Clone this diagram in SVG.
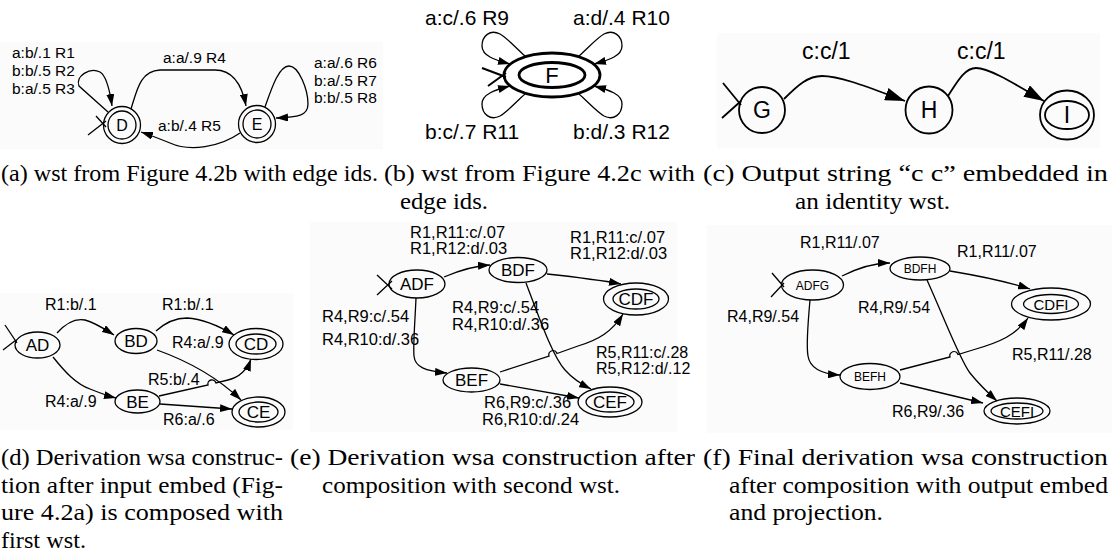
<svg xmlns="http://www.w3.org/2000/svg" width="1112" height="551" viewBox="0 0 1112 551">
<style>
.t{font-family:"Liberation Sans",Arial,Helvetica,sans-serif;fill:#000}
.cap{font-family:"Liberation Serif","Times New Roman",serif;font-size:23px;fill:#000}
.e{fill:none;stroke:#000;stroke-width:1.3}
.n{fill:none;stroke:#000;stroke-width:1.3}
.bg{fill:#fbfbfb}
.a{font-size:15.5px}
.b{font-size:21px}
.c{font-size:23px}
.d{font-size:16px}
.ee{font-size:16.5px}
.f{font-size:16px}
</style>
<defs>
<marker id="ah" viewBox="0 0 12 8" refX="12" refY="4" markerWidth="12" markerHeight="8" orient="auto" markerUnits="userSpaceOnUse"><path d="M0,0 L12,4 L0,8 z"/></marker>
<marker id="ahL" viewBox="0 0 20 13" refX="20" refY="6.5" markerWidth="20" markerHeight="13" orient="auto" markerUnits="userSpaceOnUse"><path d="M0,0 L20,6.5 L0,13 z"/></marker>
</defs>

<g id="backgrounds">
<rect class="bg" x="0" y="42" width="383" height="107"/>
<rect class="bg" x="717" y="33" width="383" height="115"/>
<rect class="bg" x="0" y="293" width="293" height="137"/>
<rect class="bg" x="310" y="222" width="367" height="210"/>
<rect class="bg" x="707" y="225" width="405" height="208"/>
</g>

<!-- Panel (a) -->
<g id="a-D"><circle class="n" cx="122" cy="125" r="18.5"/><circle class="n" cx="122" cy="125" r="14"/><text class="t" x="122" y="131" font-size="16" text-anchor="middle">D</text></g>
<g id="a-E"><circle class="n" cx="257" cy="124" r="18.5"/><circle class="n" cx="257" cy="124" r="14"/><text class="t" x="257" y="130" font-size="16" text-anchor="middle">E</text></g>
<g id="a-edges">
<path class="e" d="M96,116 L106,127 M88,135 L106,121"/>
<path class="e" d="M108,112 L79,86 C75,76 90,67 100,72 C107,76 110,92 112,106" marker-end="url(#ah)"/>
<path class="e" d="M131,109 C137,90 140,71 160,70 L215,70 C233,70 242,85 246,106" marker-end="url(#ah)"/>
<path class="e" d="M240,133 C220,147 190,152 170,143 C160,139 150,135 141,132" marker-end="url(#ah)"/>
<path class="e" d="M265,107 C272,87 279,66 289,66 C299,66 308,90 308,104 C308,116 298,117 276,118" marker-end="url(#ah)"/>
</g>
<g id="a-labels" class="t a">
<text x="12" y="58">a:b/.1 R1</text>
<text x="12" y="76">b:b/.5 R2</text>
<text x="12" y="94">b:a/.5 R3</text>
<text x="163" y="63">a:a/.9 R4</text>
<text x="158" y="131">a:b/.4 R5</text>
<text x="314" y="68">a:a/.6 R6</text>
<text x="314" y="85.5">b:a/.5 R7</text>
<text x="314" y="103">b:b/.5 R8</text>
</g>

<!-- Panel (b) -->
<g id="b-F"><ellipse cx="552" cy="75" rx="48" ry="22" fill="none" stroke="#000" stroke-width="2.8"/><ellipse cx="552" cy="75" rx="33" ry="12.5" fill="none" stroke="#000" stroke-width="2.8"/><text class="t" x="552" y="83" font-size="22" text-anchor="middle">F</text></g>
<g id="b-edges">
<path d="M482,68 L506,77 M488,86 L506,73" fill="none" stroke="#000" stroke-width="2"/>
<path class="e" d="M525,56 C515,47 507,38 500,34 C490,29 482,36 482,46 C482,56 495,60 510,64" marker-end="url(#ah)"/>
<path class="e" d="M579,56 C589,47 597,38 604,34 C614,29 622,36 622,46 C622,56 609,60 594,64" marker-end="url(#ah)"/>
<path class="e" d="M525,94 C515,103 507,112 500,116 C490,121 482,114 482,104 C482,94 495,90 510,86" marker-end="url(#ah)"/>
<path class="e" d="M579,94 C589,103 597,112 604,116 C614,121 622,114 622,104 C622,94 609,90 594,86" marker-end="url(#ah)"/>
</g>
<g id="b-labels" class="t b">
<text x="425" y="25">a:c/.6 R9</text>
<text x="573" y="25">a:d/.4 R10</text>
<text x="425" y="139">b:c/.7 R11</text>
<text x="573" y="139">b:d/.3 R12</text>
</g>

<!-- Panel (c) -->
<g id="c-G"><circle cx="762" cy="110" r="23" fill="none" stroke="#000" stroke-width="1.8"/><text class="t c" x="762" y="118" text-anchor="middle">G</text></g>
<g id="c-H"><circle cx="929" cy="110" r="23.5" fill="none" stroke="#000" stroke-width="1.8"/><text class="t c" x="929" y="118" text-anchor="middle">H</text></g>
<g id="c-I"><ellipse cx="1067" cy="115" rx="27" ry="24.5" fill="none" stroke="#000" stroke-width="1.8"/><ellipse cx="1067" cy="115" rx="22" ry="14" fill="none" stroke="#000" stroke-width="1.8"/><text class="t c" x="1067" y="123" text-anchor="middle">I</text></g>
<g id="c-edges">
<path d="M723,83 L741,105 M722,118 L741,101" fill="none" stroke="#000" stroke-width="1.8"/>
<path d="M784,99 C798,85 808,76 822,76 C842,76 875,90 905,101" fill="none" stroke="#000" stroke-width="1.8" marker-end="url(#ahL)"/>
<path d="M948,96 C956,84 964,68 976,68 C990,68 1018,86 1044,101" fill="none" stroke="#000" stroke-width="1.8" marker-end="url(#ahL)"/>
</g>
<g id="c-labels" class="t c">
<text x="802" y="59">c:c/1</text>
<text x="957" y="59">c:c/1</text>
</g>

<!-- Panel (d) -->
<g id="d-AD"><ellipse class="n" cx="37.5" cy="345" rx="22.5" ry="13"/><text class="t" x="37.5" y="351" font-size="17" text-anchor="middle">AD</text></g>
<g id="d-BD"><ellipse class="n" cx="136" cy="341" rx="21" ry="12.5"/><text class="t" x="136" y="347" font-size="17" text-anchor="middle">BD</text></g>
<g id="d-CD"><ellipse class="n" cx="256" cy="344" rx="27" ry="15.5"/><ellipse class="n" cx="256" cy="344" rx="20" ry="10"/><text class="t" x="256" y="350" font-size="17" text-anchor="middle">CD</text></g>
<g id="d-BE"><ellipse class="n" cx="137.5" cy="401.5" rx="22.5" ry="11.5"/><text class="t" x="137.5" y="407.5" font-size="17" text-anchor="middle">BE</text></g>
<g id="d-CE"><ellipse class="n" cx="258.5" cy="412" rx="26.5" ry="15"/><ellipse class="n" cx="258.5" cy="412" rx="19.5" ry="10"/><text class="t" x="258.5" y="418" font-size="17" text-anchor="middle">CE</text></g>
<g id="d-edges">
<path class="e" d="M5,325 L17,343 M3,350 L16,340"/>
<path class="e" d="M57,333 C66,323 75,318 85,320 C96,323 106,330 114,335" marker-end="url(#ah)"/>
<path class="e" d="M156,331 C166,322 175,318 187,318 C203,319 219,326 234,335" marker-end="url(#ah)"/>
<path class="e" d="M53,357 C65,372 76,384 90,389 C100,393 108,396 116,398" marker-end="url(#ah)"/>
<path class="e" d="M157,350 C185,360 216,376 241,400" marker-end="url(#ah)"/>
<path class="e" d="M159,396 L208,385 a4,4 0 0 1 8,-2 L228,380 C240,377 247,370 251,359" marker-end="url(#ah)"/>
<path class="e" d="M160,404 L232,409" marker-end="url(#ah)"/>
</g>
<g id="d-labels" class="t d">
<text x="45" y="310">R1:b/.1</text>
<text x="162" y="310">R1:b/.1</text>
<text x="172" y="348">R4:a/.9</text>
<text x="148" y="385">R5:b/.4</text>
<text x="45" y="407">R4:a/.9</text>
<text x="163" y="425">R6:a/.6</text>
</g>

<!-- Panel (e) -->
<g id="e-ADF"><ellipse class="n" cx="417" cy="284" rx="28" ry="14"/><text class="t" x="417" y="290" font-size="17" text-anchor="middle">ADF</text></g>
<g id="e-BDF"><ellipse class="n" cx="518" cy="270" rx="29" ry="12.5"/><text class="t" x="518" y="276" font-size="17" text-anchor="middle">BDF</text></g>
<g id="e-CDF"><ellipse class="n" cx="636" cy="299" rx="32.5" ry="16"/><ellipse class="n" cx="636" cy="299" rx="23" ry="10"/><text class="t" x="636" y="305" font-size="17" text-anchor="middle">CDF</text></g>
<g id="e-BEF"><ellipse class="n" cx="471.5" cy="380" rx="28.5" ry="12"/><text class="t" x="471.5" y="386" font-size="17" text-anchor="middle">BEF</text></g>
<g id="e-CEF"><ellipse class="n" cx="610" cy="402" rx="32" ry="15"/><ellipse class="n" cx="610" cy="402" rx="24" ry="10"/><text class="t" x="610" y="408" font-size="17" text-anchor="middle">CEF</text></g>
<g id="e-edges">
<path class="e" d="M377,275 L392,289 M377,295 L392,281"/>
<path class="e" d="M444,277 C458,271 472,266 490,265" marker-end="url(#ah)"/>
<path class="e" d="M547,274 C575,277 600,280 621,284" marker-end="url(#ah)"/>
<path class="e" d="M416,298 C415,322 413,345 414,356 C415,367 425,371 447,373" marker-end="url(#ah)"/>
<path class="e" d="M526,283 C540,320 553,357 565,370 C573,379 581,384 591,389" marker-end="url(#ah)"/>
<path class="e" d="M500,372 L549,356 a4,4 0 0 1 8,-2.5 L578,346 C598,340 612,332 623,314" marker-end="url(#ah)"/>
<path class="e" d="M500,384 L579,398" marker-end="url(#ah)"/>
</g>
<g id="e-labels" class="t ee">
<text x="410" y="238">R1,R11:c/.07</text>
<text x="410" y="254">R1,R12:d/.03</text>
<text x="570" y="243">R1,R11:c/.07</text>
<text x="570" y="259">R1,R12:d/.03</text>
<text x="322" y="322">R4,R9:c/.54</text>
<text x="322" y="345">R4,R10:d/.36</text>
<text x="452" y="313">R4,R9:c/.54</text>
<text x="452" y="330">R4,R10:d/.36</text>
<text x="596" y="358" font-size="16">R5,R11:c/.28</text>
<text x="596" y="374" font-size="16">R5,R12:d/.12</text>
<text x="484" y="408">R6,R9:c/.36</text>
<text x="482" y="425">R6,R10:d/.24</text>
</g>

<!-- Panel (f) -->
<g id="f-ADFG"><ellipse class="n" cx="812.5" cy="285" rx="31" ry="15"/><text class="t" x="812.5" y="289.5" font-size="12" text-anchor="middle">ADFG</text></g>
<g id="f-BDFH"><ellipse class="n" cx="920" cy="268.5" rx="30" ry="11.5"/><text class="t" x="920" y="273" font-size="12" text-anchor="middle">BDFH</text></g>
<g id="f-CDFI"><ellipse class="n" cx="1051" cy="304" rx="39.5" ry="16"/><ellipse class="n" cx="1051" cy="304" rx="27.5" ry="9.5"/><text class="t" x="1051" y="309.5" font-size="15" text-anchor="middle">CDFI</text></g>
<g id="f-BEFH"><ellipse class="n" cx="870" cy="376.5" rx="30" ry="13"/><text class="t" x="870" y="381" font-size="12" text-anchor="middle">BEFH</text></g>
<g id="f-CEFI"><ellipse class="n" cx="1017" cy="411" rx="33" ry="13"/><ellipse class="n" cx="1017" cy="411" rx="26" ry="8"/><text class="t" x="1017" y="416.5" font-size="15" text-anchor="middle">CEFI</text></g>
<g id="f-edges">
<path class="e" d="M772,273 L784,287 M771,297 L784,283"/>
<path class="e" d="M842,276 C856,269 872,263 890,263" marker-end="url(#ah)"/>
<path class="e" d="M950,271 C980,276 1005,281 1030,289" marker-end="url(#ah)"/>
<path class="e" d="M810,300 C808,322 806,345 808,356 C810,369 822,374 840,375" marker-end="url(#ah)"/>
<path class="e" d="M927,280 C945,320 960,360 970,373 C978,383 986,391 997,401" marker-end="url(#ah)"/>
<path class="e" d="M900,370 L950,357 a4,4 0 0 1 8,-2.5 L976,349 C1000,342 1016,335 1028,318" marker-end="url(#ah)"/>
<path class="e" d="M900,383 L983,403" marker-end="url(#ah)"/>
</g>
<g id="f-labels" class="t f">
<text x="800" y="248">R1,R11/.07</text>
<text x="957" y="257">R1,R11/.07</text>
<text x="727" y="322">R4,R9/.54</text>
<text x="858" y="313">R4,R9/.54</text>
<text x="1012" y="360">R5,R11/.28</text>
<text x="892" y="417">R6,R9/.36</text>
</g>

<!-- Captions -->
<g id="captions" class="cap">
<text x="1" y="181" textLength="377" lengthAdjust="spacingAndGlyphs">(a) wst from Figure 4.2b with edge ids.</text>
<text x="384" y="181" textLength="311" lengthAdjust="spacingAndGlyphs">(b) wst from Figure 4.2c with</text>
<text x="400" y="209" textLength="88" lengthAdjust="spacingAndGlyphs">edge ids.</text>
<text x="703" y="181" textLength="405" lengthAdjust="spacingAndGlyphs">(c) Output string “c c” embedded in</text>
<text x="795" y="209" textLength="155" lengthAdjust="spacingAndGlyphs">an identity wst.</text>
<text x="1" y="465" textLength="282" lengthAdjust="spacingAndGlyphs">(d) Derivation wsa construc-</text>
<text x="1" y="492.5" textLength="282" lengthAdjust="spacingAndGlyphs">tion after input embed (Fig-</text>
<text x="1" y="520" textLength="282" lengthAdjust="spacingAndGlyphs">ure 4.2a) is composed with</text>
<text x="1" y="547.5" textLength="85" lengthAdjust="spacingAndGlyphs">first wst.</text>
<text x="290" y="465" textLength="405" lengthAdjust="spacingAndGlyphs">(e) Derivation wsa construction after</text>
<text x="322" y="492.5" textLength="298" lengthAdjust="spacingAndGlyphs">composition with second wst.</text>
<text x="703" y="465" textLength="405" lengthAdjust="spacingAndGlyphs">(f) Final derivation wsa construction</text>
<text x="729" y="492.5" textLength="379" lengthAdjust="spacingAndGlyphs">after composition with output embed</text>
<text x="729" y="520" textLength="154" lengthAdjust="spacingAndGlyphs">and projection.</text>
</g>
</svg>
